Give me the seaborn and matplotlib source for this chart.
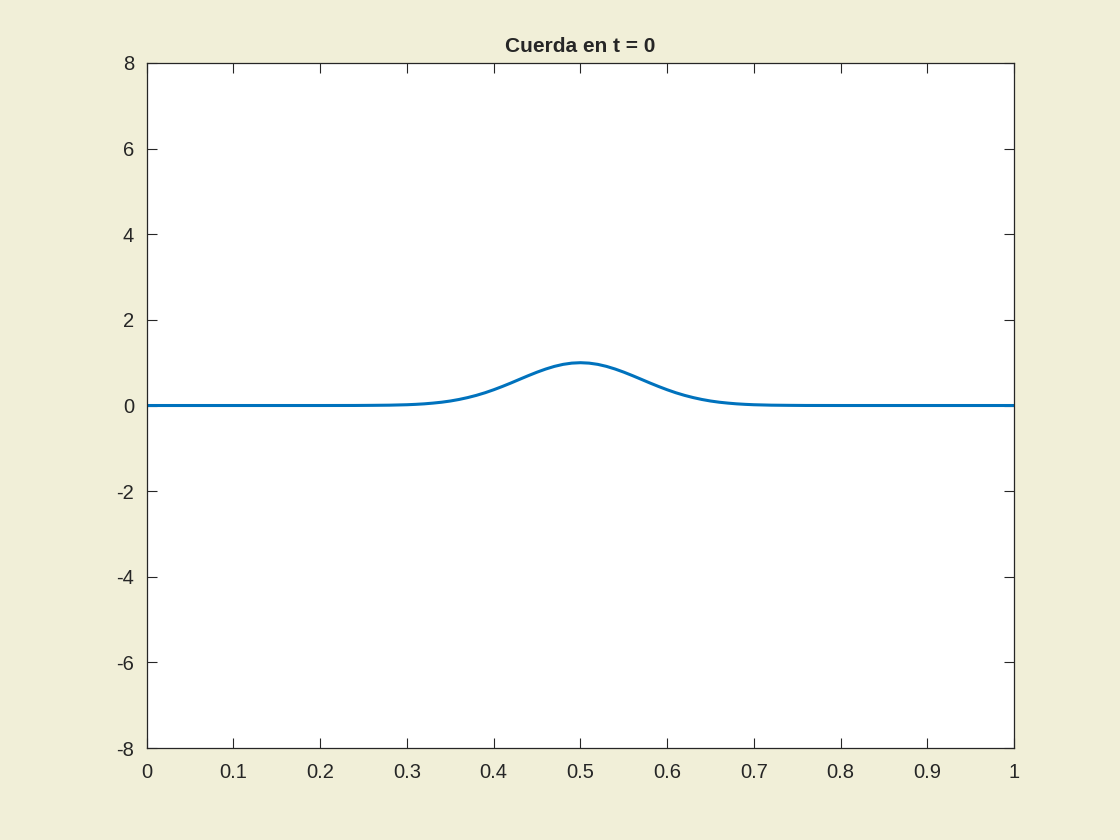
import numpy as np
import pandas as pd
import matplotlib
matplotlib.use('Agg')
import matplotlib.pyplot as plt
import seaborn as sns

# posición a lo largo de la cuerda y desplazamiento
x = [0.0, 0.05, 0.10, 0.15, 0.20, 0.24, 0.26, 0.28, 0.30, 0.31, 0.32, 0.33, 0.34,
     0.35, 0.36, 0.37, 0.38, 0.39, 0.40, 0.41, 0.42, 0.43, 0.44, 0.45, 0.46,
     0.47, 0.48, 0.49, 0.50, 0.51, 0.52, 0.53, 0.54, 0.55, 0.56, 0.57, 0.58,
     0.59, 0.60, 0.61, 0.62, 0.63, 0.64, 0.65, 0.66, 0.67, 0.68, 0.69, 0.70,
     0.72, 0.74, 0.76, 0.80, 0.85, 0.90, 0.95, 1.0]
u = [0.0, 0.0, 0.0, 0.0, 0.0, 0.001, 0.004, 0.008, 0.018, 0.027, 0.039, 0.056, 0.077,
     0.105, 0.141, 0.185, 0.237, 0.298, 0.368, 0.445, 0.527, 0.613, 0.698, 0.779, 0.852,
     0.914, 0.961, 0.990, 1.0, 0.990, 0.961, 0.914, 0.852, 0.779, 0.698, 0.613, 0.527,
     0.445, 0.368, 0.298, 0.237, 0.185, 0.141, 0.105, 0.077, 0.056, 0.039, 0.027, 0.018,
     0.008, 0.004, 0.001, 0.0, 0.0, 0.0, 0.0, 0.0]
xticks = [0, 0.1, 0.2, 0.3, 0.4, 0.5, 0.6, 0.7, 0.8, 0.9, 1]
xlabels = ['0', '0.1', '0.2', '0.3', '0.4', '0.5', '0.6', '0.7', '0.8', '0.9', '1']
yticks = [-8, -6, -4, -2, 0, 2, 4, 6, 8]

df = pd.DataFrame({'x': x, 'u': u})

sns.set_style('white')
plt.rcParams['font.family'] = ['Liberation Sans', 'DejaVu Sans']
plt.rcParams['axes.unicode_minus'] = False

fig = plt.figure(figsize=(11.2, 8.4), dpi=100, facecolor='#f1efd8')
ax = fig.add_axes([0.131, 0.1095, 0.7745, 0.8155])
ax.set_facecolor('white')

sns.lineplot(data=df, x='x', y='u', ax=ax, color='#0072BD', linewidth=2.2)

ax.set_xlim(0, 1)
ax.set_ylim(-8, 8)
ax.set_xticks(xticks)
ax.set_xticklabels(xlabels)
ax.set_yticks(yticks)
ax.set_xlabel('')
ax.set_ylabel('')
ax.tick_params(direction='in', length=7, width=0.8, colors='#262626',
               labelsize=14.5, top=True, right=True, bottom=True, left=True)
ax.tick_params(axis='x', pad=11)
ax.tick_params(axis='y', pad=9)
for s in ax.spines.values():
    s.set_visible(True)
    s.set_color('#262626')
    s.set_linewidth(0.9)
ax.set_title('Cuerda en t = 0', fontsize=15, fontweight='bold', pad=8)

fig.savefig('out.png', dpi=100, facecolor=fig.get_facecolor())
